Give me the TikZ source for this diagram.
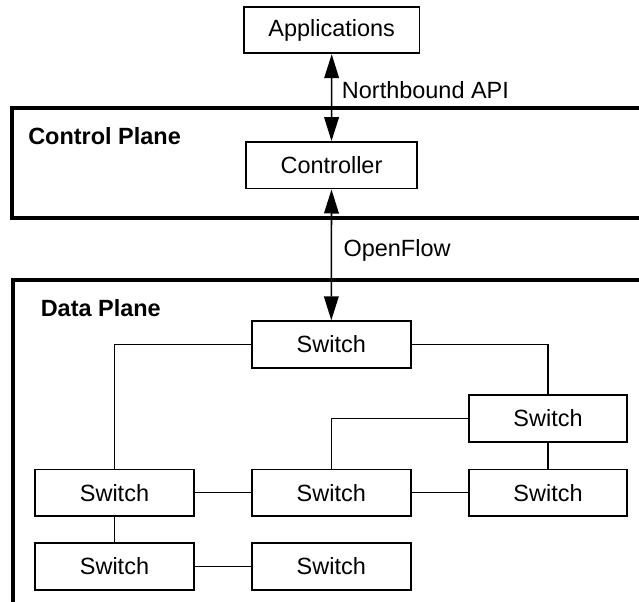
\documentclass[tikz,border=0pt]{standalone}
\usepackage{fontspec}
\setmainfont{Liberation Sans}
\usetikzlibrary{arrows.meta}
\begin{document}
\begin{tikzpicture}[x=0.75pt,y=-0.75pt,
  font=\fontsize{17.6pt}{20pt}\selectfont,
  box/.style={draw,line width=1.3pt,fill=white,inner sep=0pt,minimum height=35pt},
  sw/.style={box,minimum width=119pt},
  plane/.style={draw,line width=3pt},
  planelabel/.style={anchor=west,inner sep=0pt,font=\fontsize{17.6pt}{20pt}\selectfont\bfseries},
  lbl/.style={anchor=west,inner sep=0pt},
  link/.style={line width=1pt},
  dbl/.style={line width=1.2pt,{Triangle[length=18pt,width=11pt]}-{Triangle[length=18pt,width=11pt]}}
]
\clip (0,0) rectangle (639,602);
% planes
\draw[plane] (12,107.7) rectangle (660,218);
\draw[plane] (13,280) rectangle (660,640);
\node[planelabel] (cpl) at (28,136) {Control Plane};
\node[planelabel] (dpl) at (40.5,308) {Data Plane};
% nodes
\node[box,minimum width=131.5pt] (app) at (331.7,30) {Applications};
\node[box,minimum width=128.5pt] (ctrl) at (331.5,165.3) {Controller};
\node[sw] (s1) at (331.3,344.5) {Switch};
\node[sw] (s2) at (548,418.5) {Switch};
\node[sw] (s3) at (114.5,492.8) {Switch};
\node[sw] (s4) at (331.3,492.8) {Switch};
\node[sw] (s5) at (548,492.8) {Switch};
\node[sw] (s6) at (114.5,566.5) {Switch};
\node[sw] (s7) at (331.3,566.5) {Switch};
% arrows
\draw[dbl] (app.south) -- (ctrl.north);
\draw[dbl] (ctrl.south) -- (s1.north);
\node[lbl] (nb) at (341.7,90) {Northbound API};
\node[lbl] (of) at (343.3,250.5) {OpenFlow};
% links
\draw[link] (s1.west) -| (s3.north);
\draw[link] (s1.east) -| (s2.north);
\draw[link] (s4.north) |- (s2.west);
\draw[link] (s3.east) -- (s4.west);
\draw[link] (s4.east) -- (s5.west);
\draw[link] (s2.south) -- (s5.north);
\draw[link] (s3.south) -- (s6.north);
\draw[link] (s6.east) -- (s7.west);
\end{tikzpicture}
\end{document}
